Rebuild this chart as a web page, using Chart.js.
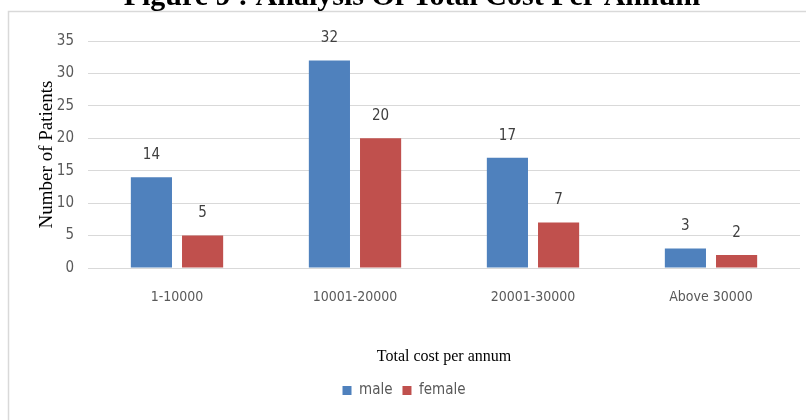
<!DOCTYPE html>
<html>
<head>
<meta charset="utf-8">
<script src="https://cdn.jsdelivr.net/npm/chart.js@4"></script>
<style>
  html, body { margin: 0; padding: 0; background: #fff; }
  #wrap { width: 806px; height: 420px; position: relative; }
</style>
</head>
<body>
<div id="wrap"><canvas id="c" width="806" height="420"></canvas></div>
<script>
// Cost brackets and patient counts by gender
const categories = ['1-10000', '10001-20000', '20001-30000', 'Above 30000'];
const maleCounts = [14, 32, 17, 3];
const femaleCounts = [5, 20, 7, 2];
const yTicks = [0, 5, 10, 15, 20, 25, 30, 35];

const chartTitle = 'Figure 9 : Analysis Of Total Cost Per Annum';
const yTitle = 'Number of Patients';
const xTitle = 'Total cost per annum';

const sansNarrow = '"Liberation Sans Narrow", "DejaVu Sans Condensed", "Liberation Sans", sans-serif';
const serif = '"Liberation Serif", "DejaVu Serif", serif';
const tickGrey = '#595959';

// Frame around the plot plus the figure caption above it
const framePlugin = {
  id: 'frame',
  beforeDraw(chart) {
    const ctx = chart.ctx;
    ctx.save();
    ctx.fillStyle = '#ffffff';
    ctx.fillRect(0, 0, chart.width, chart.height);
    ctx.strokeStyle = '#d9d9d9';
    ctx.lineWidth = 1.5;
    ctx.strokeRect(8.5, 11.5, chart.width + 20, chart.height + 20);
    ctx.fillStyle = '#000000';
    ctx.font = 'bold 30px ' + serif;
    ctx.textAlign = 'center';
    ctx.textBaseline = 'alphabetic';
    ctx.fillText(chartTitle, 412, 5);
    ctx.restore();
  }
};

// Value labels above each bar
const valueLabels = {
  id: 'valueLabels',
  afterDatasetsDraw(chart) {
    const ctx = chart.ctx;
    ctx.save();
    ctx.fillStyle = '#404040';
    ctx.font = '15px ' + sansNarrow;
    ctx.textAlign = 'center';
    ctx.textBaseline = 'middle';
    chart.data.datasets.forEach((ds, i) => {
      chart.getDatasetMeta(i).data.forEach((bar, j) => {
        ctx.fillText(String(ds.data[j]), bar.x, bar.y - 22);
      });
    });
    ctx.restore();
  }
};

new Chart(document.getElementById('c'), {
  type: 'bar',
  data: {
    labels: categories,
    datasets: [
      { label: 'male', data: maleCounts, backgroundColor: '#4F81BD' },
      { label: 'female', data: femaleCounts, backgroundColor: '#C0504D' }
    ]
  },
  options: {
    responsive: false,
    animation: false,
    devicePixelRatio: 1,
    categoryPercentage: 0.575,
    barPercentage: 0.804,
    layout: { padding: { left: 8, right: 6, top: 41, bottom: 12 } },
    plugins: {
      legend: {
        position: 'bottom',
        labels: {
          boxWidth: 9,
          boxHeight: 9,
          padding: 10,
          color: tickGrey,
          font: { family: sansNarrow, size: 15 }
        }
      },
      tooltip: { enabled: false },
      title: { display: false }
    },
    scales: {
      x: {
        grid: { display: false, drawTicks: false },
        border: { display: false },
        ticks: {
          color: tickGrey,
          padding: 21,
          font: { family: sansNarrow, size: 14 }
        },
        title: {
          display: true,
          text: xTitle,
          color: '#000000',
          font: { family: serif, size: 16 },
          padding: { top: 20, bottom: 7 }
        }
      },
      y: {
        min: 0,
        max: 35,
        afterBuildTicks(scale) {
          scale.ticks = yTicks.map(v => ({ value: v }));
        },
        afterFit(scale) { scale.width = 80; },
        grid: { color: '#d9d9d9', lineWidth: 1, drawTicks: false },
        border: { display: false },
        ticks: {
          color: tickGrey,
          padding: 14,
          font: { family: sansNarrow, size: 15 }
        },
        title: {
          display: true,
          text: yTitle,
          color: '#000000',
          font: { family: serif, size: 19 },
          padding: { top: 28, bottom: 0 }
        }
      }
    }
  },
  plugins: [framePlugin, valueLabels]
});
</script>
</body>
</html>
